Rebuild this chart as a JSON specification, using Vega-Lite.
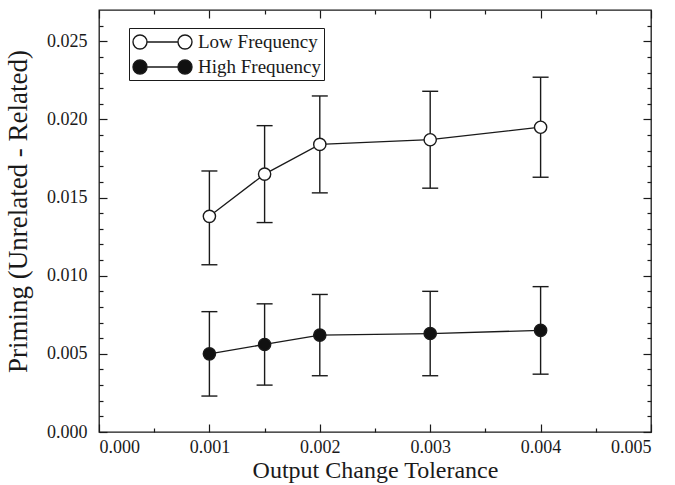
{
  "$schema": "https://vega.github.io/schema/vega-lite/v6.json",
  "width": 552,
  "height": 422,
  "autosize": {"type": "none"},
  "padding": {"left": 99, "top": 10, "right": 24, "bottom": 53},
  "background": "white",
  "config": {
    "view": {"stroke": "#1a1a1a", "strokeWidth": 1.3},
    "axis": {
      "domain": false,
      "grid": false,
      "labelFont": "Liberation Serif",
      "labelFontSize": 18,
      "labelColor": "#1a1a1a",
      "titleFont": "Liberation Serif",
      "titleFontSize": 24,
      "titleFontWeight": "normal",
      "titleColor": "#1a1a1a",
      "tickColor": "#1a1a1a",
      "tickWidth": 1.2
    },
    "legend": {
      "orient": "none",
      "legendX": 30,
      "legendY": 18,
      "labelFont": "Liberation Serif",
      "labelFontSize": 19,
      "labelColor": "#1a1a1a",
      "labelOffset": 24.5,
      "symbolOffset": 19.5,
      "strokeColor": "#1a1a1a",
      "fillColor": "white",
      "padding": 3,
      "rowPadding": 4,
      "symbolType": "M-1.55,0L1.55,0M-2.95,0A0.7,0.7,0,1,0,-1.55,0A0.7,0.7,0,1,0,-2.95,0ZM1.55,0A0.7,0.7,0,1,0,2.95,0A0.7,0.7,0,1,0,1.55,0Z",
      "symbolSize": 400,
      "symbolStrokeColor": "#1a1a1a",
      "symbolStrokeWidth": 1.4,
      "symbolOpacity": 1
    }
  },
  "data": {
    "values": [
      {"series": "Low Frequency", "tolerance": 0.001, "priming": 0.0138, "lo": 0.0107, "hi": 0.0167},
      {"series": "Low Frequency", "tolerance": 0.0015, "priming": 0.0165, "lo": 0.0134, "hi": 0.0196},
      {"series": "Low Frequency", "tolerance": 0.002, "priming": 0.0184, "lo": 0.0153, "hi": 0.0215},
      {"series": "Low Frequency", "tolerance": 0.003, "priming": 0.0187, "lo": 0.0156, "hi": 0.0218},
      {"series": "Low Frequency", "tolerance": 0.004, "priming": 0.0195, "lo": 0.0163, "hi": 0.0227},
      {"series": "High Frequency", "tolerance": 0.001, "priming": 0.0050, "lo": 0.0023, "hi": 0.0077},
      {"series": "High Frequency", "tolerance": 0.0015, "priming": 0.0056, "lo": 0.0030, "hi": 0.0082},
      {"series": "High Frequency", "tolerance": 0.002, "priming": 0.0062, "lo": 0.0036, "hi": 0.0088},
      {"series": "High Frequency", "tolerance": 0.003, "priming": 0.0063, "lo": 0.0036, "hi": 0.0090},
      {"series": "High Frequency", "tolerance": 0.004, "priming": 0.0065, "lo": 0.0037, "hi": 0.0093}
    ]
  },
  "layer": [
    {
      "mark": {"type": "rule", "color": "#1a1a1a", "strokeWidth": 1.4},
      "encoding": {
        "x": {"field": "tolerance", "type": "quantitative",
              "scale": {"domain": [0, 0.005], "nice": false, "zero": false},
              "axis": {"orient": "bottom", "values": [0, 0.001, 0.002, 0.003, 0.004, 0.005], "format": ".3f", "tickSize": -8, "labelPadding": 14, "title": "Output Change Tolerance", "titlePadding": 2}},
        "y": {"field": "lo", "type": "quantitative",
              "scale": {"domain": [0, 0.027], "nice": false, "zero": false},
              "axis": {"orient": "left", "values": [0, 0.005, 0.01, 0.015, 0.02, 0.025], "format": ".3f", "tickSize": -8, "labelPadding": 20, "title": "Priming (Unrelated - Related)", "titleFontSize": 27, "titlePadding": 14, "titleY": 201}},
        "y2": {"field": "hi"}
      }
    },
    {
      "mark": {"type": "tick", "orient": "horizontal", "color": "#1a1a1a", "size": 16, "thickness": 1.4, "opacity": 1},
      "transform": [{"fold": ["lo", "hi"], "as": ["bound", "bvalue"]}],
      "encoding": {
        "x": {"field": "tolerance", "type": "quantitative",
              "axis": {"orient": "top", "values": [0, 0.001, 0.002, 0.003, 0.004, 0.005], "labels": false, "tickSize": -8, "title": null}},
        "y": {"field": "bvalue", "type": "quantitative",
              "axis": {"orient": "right", "values": [0, 0.005, 0.01, 0.015, 0.02, 0.025], "labels": false, "tickSize": -8, "title": null}}
      }
    },
    {
      "mark": {"type": "line", "color": "#1a1a1a", "strokeWidth": 1.3},
      "encoding": {
        "x": {"field": "tolerance", "type": "quantitative",
              "axis": {"orient": "bottom", "values": [0.0005, 0.0015, 0.0025, 0.0035, 0.0045], "labels": false, "tickSize": -4, "title": null}},
        "y": {"field": "priming", "type": "quantitative",
              "axis": {"orient": "left", "values": [0.001, 0.002, 0.003, 0.004, 0.006, 0.007, 0.008, 0.009, 0.011, 0.012, 0.013, 0.014, 0.016, 0.017, 0.018, 0.019, 0.021, 0.022, 0.023, 0.024, 0.026], "labels": false, "tickSize": -4, "title": null}},
        "detail": {"field": "series"}
      }
    },
    {
      "mark": {"type": "point", "filled": true, "shape": "circle", "size": 150, "stroke": "#1a1a1a", "strokeWidth": 1.4, "opacity": 1},
      "encoding": {
        "x": {"field": "tolerance", "type": "quantitative",
              "axis": {"orient": "top", "values": [0.0005, 0.0015, 0.0025, 0.0035, 0.0045], "labels": false, "tickSize": -4, "title": null}},
        "y": {"field": "priming", "type": "quantitative",
              "axis": {"orient": "right", "values": [0.001, 0.002, 0.003, 0.004, 0.006, 0.007, 0.008, 0.009, 0.011, 0.012, 0.013, 0.014, 0.016, 0.017, 0.018, 0.019, 0.021, 0.022, 0.023, 0.024, 0.026], "labels": false, "tickSize": -4, "title": null}},
        "fill": {"field": "series", "type": "nominal",
                 "scale": {"domain": ["Low Frequency", "High Frequency"], "range": ["white", "#111111"]},
                 "legend": {"title": null}}
      }
    }
  ],
  "resolve": {"axis": {"x": "independent", "y": "independent"}}
}
